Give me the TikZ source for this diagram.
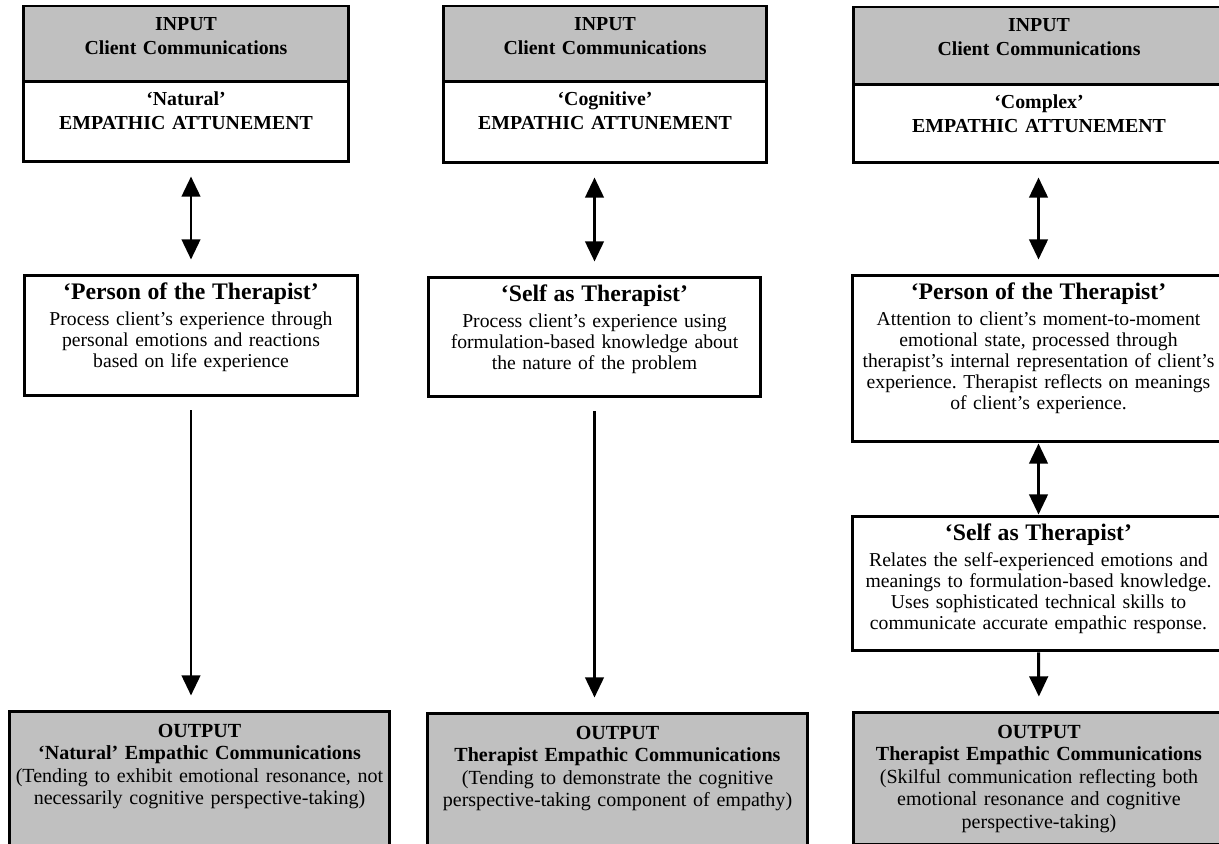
\documentclass[tikz,border=0pt]{standalone}
\usepackage{fontspec}
\setmainfont{Liberation Serif}
\usetikzlibrary{positioning}
\usetikzlibrary{arrows.meta}
\definecolor{boxgray}{RGB}{192,192,192}
\newcommand\hdrfont{\fontsize{11.3}{13.5}\selectfont\bfseries}
\newcommand\bodyfont{\fontsize{11.2}{12}\selectfont}
\newcommand\outfont{\fontsize{11.4}{12.8}\selectfont}
\newcommand\ttlfont{\fontsize{13.5}{15}\selectfont\bfseries}
\frenchspacing

\begin{document}
\begin{tikzpicture}[x=0.02cm,y=-0.02cm,
  box/.style={draw=black,line width=1.7pt,rectangle,inner sep=0pt,fill=white},
  grey/.style={box,fill=boxgray},
  txt/.style={align=center,inner sep=0pt,text width=#1,font=\bodyfont},
  txt/.default=6.4cm,
  bigtri/.tip={Triangle[width=10.5pt,length=11.5pt]},
  link/.style={line width=1.7pt,-bigtri},
  both/.style={line width=1.7pt,bigtri-bigtri},
  gap/.style={shorten <=0.26cm,shorten >=0.28cm}]
\useasboundingbox (0,0) rectangle (1219,844);

% column 1: natural
\node[box,minimum width=6.52cm,minimum height=1.6cm] (att1) at (186,122) {};
\node[grey,minimum width=6.52cm,minimum height=1.52cm] (in1) at (186,44) {};
\node[box,minimum width=6.68cm,minimum height=2.42cm] (per1) at (191,335.5) {};
\node[grey,minimum width=7.62cm,minimum height=2.72cm] (out1) at (199.5,779) {};
\node[txt=6.3cm,below=0.26cm of in1.north,font=\hdrfont] (in1t) {INPUT\\Client Communications};
\node[txt=6.3cm,below=0.22cm of att1.north,font=\hdrfont] (att1t) {‘Natural’\\EMPATHIC ATTUNEMENT};
\node[txt=6.5cm,below=0.18cm of per1.north] (per1t) {{\ttlfont ‘Person of the Therapist’\par}\vspace{2.5pt}Process client’s experience through\\personal emotions and reactions\\based on life experience};
\node[txt=7.55cm,below=0.28cm of out1.north,font=\outfont] (out1t) {\textbf{OUTPUT}\\\textbf{‘Natural’ Empathic Communications}\\(Tending to exhibit emotional resonance, not\\necessarily cognitive perspective-taking)};
\draw[both,gap] (per1.north |- att1.south) -- (per1.north);
\draw[link,gap] (per1.south) -- (per1.south |- out1.north);

% column 2: cognitive
\node[box,minimum width=6.48cm,minimum height=1.62cm] (att2) at (605,122.5) {};
\node[grey,minimum width=6.48cm,minimum height=1.52cm] (in2) at (605,44) {};
\node[box,minimum width=6.66cm,minimum height=2.4cm] (self2) at (594.5,337) {};
\node[grey,minimum width=7.62cm,minimum height=2.68cm] (out2) at (617.5,780) {};
\node[txt=6.3cm,below=0.26cm of in2.north,font=\hdrfont] (in2t) {INPUT\\Client Communications};
\node[txt=6.3cm,below=0.22cm of att2.north,font=\hdrfont] (att2t) {‘Cognitive’\\EMPATHIC ATTUNEMENT};
\node[txt=6.5cm,below=0.18cm of self2.north] (self2t) {{\ttlfont ‘Self as Therapist’\par}\vspace{2.5pt}Process client’s experience using\\formulation-based knowledge about\\the nature of the problem};
\node[txt=7.55cm,below=0.28cm of out2.north,font=\outfont] (out2t) {\textbf{OUTPUT}\\\textbf{Therapist Empathic Communications}\\(Tending to demonstrate the cognitive\\perspective-taking component of empathy)};
\draw[both,gap] (self2.north |- att2.south) -- (self2.north);
\draw[link,gap] (self2.south) -- (self2.south |- out2.north);

% column 3: complex
\node[box,minimum width=7.44cm,minimum height=1.56cm] (att3) at (1039,124) {};
\node[grey,minimum width=7.44cm,minimum height=1.56cm] (in3) at (1039,46) {};
\node[box,minimum width=7.46cm,minimum height=3.34cm] (per3) at (1038.5,358.5) {};
\node[box,minimum width=7.46cm,minimum height=2.7cm] (self3) at (1038.5,583.5) {};
\node[grey,minimum width=7.44cm,minimum height=2.64cm] (out3) at (1039,778) {};
\node[txt=7.2cm,below=0.26cm of in3.north,font=\hdrfont] (in3t) {INPUT\\Client Communications};
\node[txt=7.2cm,below=0.22cm of att3.north,font=\hdrfont] (att3t) {‘Complex’\\EMPATHIC ATTUNEMENT};
\node[txt=7.3cm,below=0.18cm of per3.north] (per3t) {{\ttlfont ‘Person of the Therapist’\par}\vspace{2.5pt}Attention to client’s moment-to-moment\\emotional state, processed through\\therapist’s internal representation of client’s\\experience. Therapist reflects on meanings\\of client’s experience.};
\node[txt=7.3cm,below=0.18cm of self3.north] (self3t) {{\ttlfont ‘Self as Therapist’\par}\vspace{2.5pt}Relates the self-experienced emotions and\\meanings to formulation-based knowledge.\\Uses sophisticated technical skills to\\communicate accurate empathic response.};
\node[txt=7.3cm,below=0.28cm of out3.north,font=\outfont] (out3t) {\textbf{OUTPUT}\\\textbf{Therapist Empathic Communications}\\(Skilful communication reflecting both\\emotional resonance and cognitive\\perspective-taking)};
\draw[both,gap] (per3.north |- att3.south) -- (per3.north);
\draw[both] (per3.south) -- (self3.north);
\draw[link,shorten >=0.28cm] (self3.south) -- (out3.north);

\end{tikzpicture}
\end{document}
